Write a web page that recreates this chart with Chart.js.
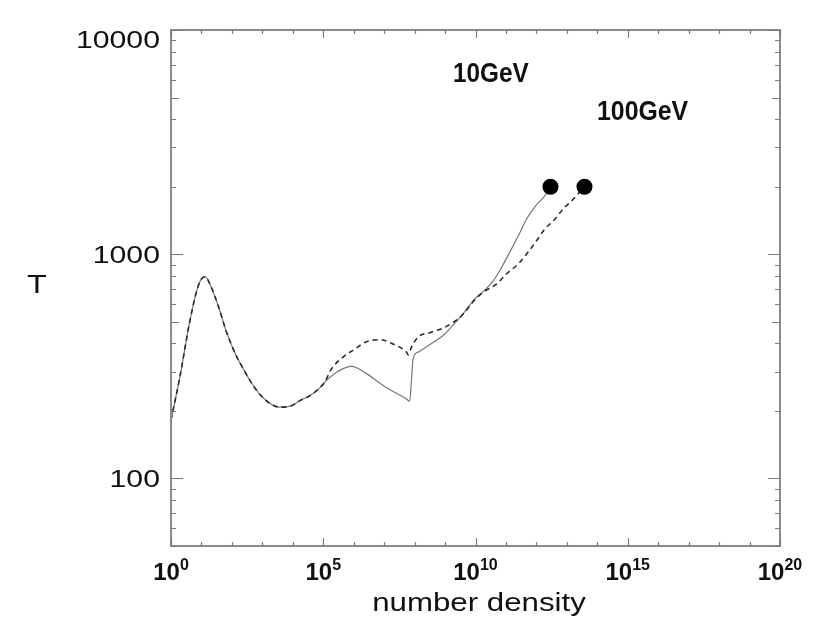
<!DOCTYPE html>
<html>
<head>
<meta charset="utf-8">
<script src="https://cdn.jsdelivr.net/npm/chart.js@4.4.1/dist/chart.umd.min.js"></script>
<style>
html,body{margin:0;padding:0;background:#fff;}
canvas{display:block;}
</style>
</head>
<body>
<canvas id="c" width="830" height="642"></canvas>
<script>
// ---- data ----
const density10GeV = [1, 2, 4, 7.1, 10, 13.2, 20, 35.5, 67.6, 126, 234, 447, 832, 1.8e3, 3.8e3,
  8.9e3, 1.78e4, 3.6e4, 7.1e4, 1.12e5, 2.75e5, 8.5e5, 2.5e6, 9.3e6, 2.5e7,
  5.0e7, 6.9e7, 7.9e7, 8.9e7, 1.29e8, 2.75e8, 9.8e8, 2.0e9, 3.5e9, 9.3e9,
  2.0e10, 3.8e10, 7.1e10, 1.32e11, 2.5e11, 4.7e11, 9.3e11, 1.86e12, 2.9e12];
const temp10GeV = [182, 288, 490, 692, 776, 794, 724, 589, 447, 363, 309, 266, 237, 216, 208,
  211, 223, 234, 251, 269, 298, 316, 295, 260, 240,
  228, 221, 275, 341, 366, 391, 441, 490, 532, 631,
  692, 760, 871, 1019, 1202, 1432, 1641, 1816, 2000];

const density100GeV = [1, 2, 4, 7.1, 10, 13.2, 20, 35.5, 67.6, 126, 234, 447, 832, 1.8e3, 3.8e3,
  8.9e3, 1.78e4, 3.6e4, 7.1e4, 1.12e5, 1.86e5, 4.5e5, 1.1e6, 2.6e6, 7.2e6,
  1.95e7, 5.4e7, 6.2e7, 7.9e7, 1.29e8, 3.5e8, 9.8e8, 2.0e9, 3.5e9, 9.3e9,
  2.0e10, 4.9e10, 1.02e11, 2.5e11, 4.7e11, 1.0e12, 1.86e12, 4.0e12, 7.4e12, 1.58e13, 3.8e13];
const temp100GeV = [182, 288, 490, 692, 776, 794, 724, 589, 447, 363, 309, 266, 237, 216, 208,
  211, 223, 234, 251, 269, 308, 348, 378, 407, 416,
  398, 366, 356, 385, 427, 449, 472, 501, 532, 624,
  684, 736, 815, 904, 1000, 1146, 1291, 1432, 1585, 1754, 2000];

const endDensity = [2.9e12, 3.8e13];
const endTemp = [2000, 2000];

const seriesLabels = ['10GeV', '100GeV'];

// axis ticks
const xMajorTicks = [1e0, 1e5, 1e10, 1e15, 1e20];
const xMajorExponents = ['0', '5', '10', '15', '20'];
const xMinorTicks = [1e1, 1e2, 1e3, 1e4, 1e6, 1e7, 1e8, 1e9, 1e11, 1e12, 1e13, 1e14, 1e16, 1e17, 1e18, 1e19];
const yMajorTicks = [100, 1000, 10000];
const yMajorLabels = ['100', '1000', '10000'];
const yMidTicks = [500, 5000];
const yMinorTicks = [50, 60, 70, 80, 90, 200, 300, 400, 600, 700, 800, 900, 2000, 3000, 4000, 6000, 7000, 8000, 9000];

const xTitle = 'number density';
const yTitle = 'T';

function pts(xs, ys) { return xs.map((v, i) => ({ x: v, y: ys[i] })); }

function txt(ctx, s, x, y, font, align, sx) {
  ctx.save();
  ctx.font = font;
  ctx.textBaseline = 'alphabetic';
  const w = ctx.measureText(s).width * sx;
  let left = x;
  if (align === 'right') left = x - w;
  else if (align === 'center') left = x - w / 2;
  ctx.translate(left, y);
  ctx.scale(sx, 1);
  ctx.textAlign = 'left';
  ctx.fillText(s, 0, 0);
  ctx.restore();
}

const framePlugin = {
  id: 'frame',
  afterDatasetsDraw(chart) {
    const { ctx, chartArea: a, scales } = chart;
    const xs = scales.x, ys = scales.y;
    ctx.save();
    ctx.strokeStyle = '#8a8a8a';
    ctx.lineWidth = 2;
    ctx.strokeRect(a.left, a.top, a.right - a.left, a.bottom - a.top);
    ctx.lineWidth = 1.2;
    ctx.strokeStyle = '#7a7a7a';
    const vline = (px, len) => {
      ctx.beginPath();
      ctx.moveTo(px, a.bottom); ctx.lineTo(px, a.bottom - len);
      ctx.moveTo(px, a.top); ctx.lineTo(px, a.top + len);
      ctx.stroke();
    };
    const hline = (py, len) => {
      ctx.beginPath();
      ctx.moveTo(a.left, py); ctx.lineTo(a.left + len, py);
      ctx.moveTo(a.right, py); ctx.lineTo(a.right - len, py);
      ctx.stroke();
    };
    xMajorTicks.forEach(v => vline(Math.round(xs.getPixelForValue(v)) + 0.5, 8));
    xMinorTicks.forEach(v => vline(Math.round(xs.getPixelForValue(v)) + 0.5, 4));
    yMajorTicks.forEach(v => hline(Math.round(ys.getPixelForValue(v)) + 0.5, 12));
    yMidTicks.forEach(v => hline(Math.round(ys.getPixelForValue(v)) + 0.5, 8));
    yMinorTicks.forEach(v => hline(Math.round(ys.getPixelForValue(v)) + 0.5, 5));
    ctx.restore();
  },
  afterDraw(chart) {
    const { ctx, chartArea: a, scales } = chart;
    const xs = scales.x, ys = scales.y;
    ctx.save();
    ctx.fillStyle = '#111';
    // y tick labels
    yMajorTicks.forEach((v, i) => {
      let py = ys.getPixelForValue(v);
      if (py < a.top + 5) py = a.top + 9;
      txt(ctx, yMajorLabels[i], a.left - 11, py + 9, '24px "Liberation Sans", Arial, sans-serif', 'right', 1.26);
    });
    // x tick labels 10^n
    xMajorTicks.forEach((v, i) => {
      const px = xs.getPixelForValue(v);
      const baseFont = 'bold 24px "Liberation Sans", Arial, sans-serif';
      const expFont = 'bold 16px "Liberation Sans", Arial, sans-serif';
      ctx.font = baseFont;
      const wb = ctx.measureText('10').width;
      ctx.font = expFont;
      const we = ctx.measureText(xMajorExponents[i]).width;
      const left = px - (wb + we) / 2;
      txt(ctx, '10', left, 580, baseFont, 'left', 1);
      txt(ctx, xMajorExponents[i], left + wb, 570, expFont, 'left', 1);
    });
    // axis titles
    txt(ctx, xTitle, 479, 611, '25px "Liberation Sans", Arial, sans-serif', 'center', 1.25);
    txt(ctx, yTitle, 37, 293, '25px "Liberation Sans", Arial, sans-serif', 'center', 1.3);
    // series labels
    txt(ctx, seriesLabels[0], 453, 82, 'bold 27px "Liberation Sans", Arial, sans-serif', 'left', 0.9);
    txt(ctx, seriesLabels[1], 597, 120, 'bold 27px "Liberation Sans", Arial, sans-serif', 'left', 0.92);
    ctx.restore();
  }
};

new Chart(document.getElementById('c'), {
  type: 'line',
  data: {
    datasets: [
      {
        type: 'scatter',
        label: 'end',
        data: pts(endDensity, endTemp),
        pointRadius: 8,
        pointBackgroundColor: '#000',
        pointBorderColor: '#000',
        pointBorderWidth: 0,
        showLine: false
      },
      {
        label: seriesLabels[1],
        data: pts(density100GeV, temp100GeV),
        borderColor: '#2a2a2a',
        borderWidth: 1.6,
        borderDash: [5, 4],
        pointRadius: 0,
        fill: false,
        cubicInterpolationMode: 'monotone'
      },
      {
        label: seriesLabels[0],
        data: pts(density10GeV, temp10GeV),
        borderColor: '#777',
        borderWidth: 1.2,
        pointRadius: 0,
        fill: false,
        cubicInterpolationMode: 'monotone'
      }
    ]
  },
  options: {
    responsive: false,
    animation: false,
    devicePixelRatio: 1,
    layout: { padding: { left: 171, right: 50, top: 30, bottom: 96 } },
    plugins: { legend: { display: false }, tooltip: { enabled: false } },
    scales: {
      x: { type: 'logarithmic', min: 1, max: 1e20, display: false },
      y: { type: 'logarithmic', min: 50, max: 10000, display: false }
    }
  },
  plugins: [framePlugin]
});
</script>
</body>
</html>
